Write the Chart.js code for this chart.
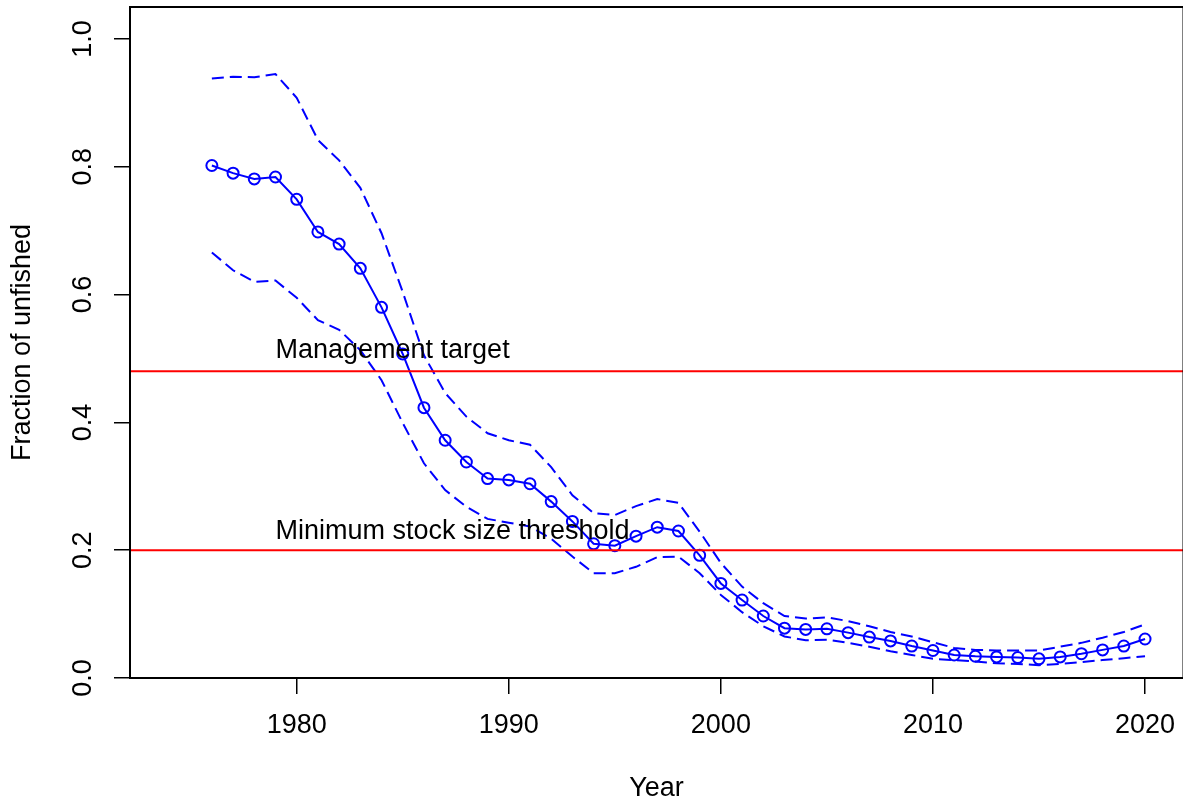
<!DOCTYPE html>
<html>
<head>
<meta charset="utf-8">
<title>Fraction of unfished</title>
<script src="https://cdn.jsdelivr.net/npm/chart.js@4.4.1/dist/chart.umd.min.js"></script>
<style>
  html, body { margin: 0; padding: 0; background: #ffffff; }
  #wrap { width: 1183px; height: 807px; }
</style>
</head>
<body>
<div id="wrap"><canvas id="chart" width="1183" height="807"></canvas></div>
<script>
// Assessment years
const years = [
  1976, 1977, 1978, 1979, 1980, 1981, 1982, 1983, 1984, 1985,
  1986, 1987, 1988, 1989, 1990, 1991, 1992, 1993, 1994, 1995,
  1996, 1997, 1998, 1999, 2000, 2001, 2002, 2003, 2004, 2005,
  2006, 2007, 2008, 2009, 2010, 2011, 2012, 2013, 2014, 2015,
  2016, 2017, 2018, 2019, 2020
];

// Estimated spawning output as a fraction of unfished
const estimate = [
  0.802, 0.790, 0.781, 0.784, 0.749, 0.698, 0.679, 0.641, 0.580, 0.507,
  0.423, 0.372, 0.338, 0.312, 0.310, 0.304, 0.276, 0.245, 0.210, 0.207,
  0.222, 0.236, 0.230, 0.192, 0.148, 0.122, 0.097, 0.078, 0.076, 0.077,
  0.071, 0.064, 0.058, 0.050, 0.043, 0.036, 0.034, 0.033, 0.032, 0.030,
  0.033, 0.038, 0.044, 0.050, 0.061
];

// Upper confidence bound
const upperCI = [
  0.938, 0.941, 0.940, 0.945, 0.908, 0.842, 0.810, 0.767, 0.696, 0.604,
  0.505, 0.446, 0.409, 0.383, 0.372, 0.365, 0.330, 0.286, 0.258, 0.255,
  0.269, 0.280, 0.274, 0.229, 0.180, 0.143, 0.117, 0.097, 0.093, 0.095,
  0.089, 0.081, 0.072, 0.065, 0.056, 0.047, 0.044, 0.043, 0.043, 0.043,
  0.049, 0.055, 0.063, 0.072, 0.084
];

// Lower confidence bound
const lowerCI = [
  0.666, 0.638, 0.620, 0.622, 0.595, 0.560, 0.545, 0.513, 0.466, 0.399,
  0.336, 0.294, 0.268, 0.249, 0.243, 0.237, 0.218, 0.190, 0.164, 0.164,
  0.174, 0.189, 0.190, 0.164, 0.130, 0.103, 0.081, 0.065, 0.059, 0.060,
  0.055, 0.049, 0.042, 0.036, 0.030, 0.028, 0.026, 0.023, 0.022, 0.020,
  0.022, 0.025, 0.028, 0.031, 0.034
];

// Reference points
const refLevels = [0.48, 0.2];
const refLabels = ['Management target', 'Minimum stock size threshold'];
const refLabelYear = 1979;
const refLabelLevels = [0.512, 0.229];

// Axis ticks
const xTicks = [1980, 1990, 2000, 2010, 2020];
const xTickLabels = ['1980', '1990', '2000', '2010', '2020'];
const yTicks = [0, 0.2, 0.4, 0.6, 0.8, 1.0];
const yTickLabels = ['0.0', '0.2', '0.4', '0.6', '0.8', '1.0'];

// Axis ranges
const X_MIN = 1972.14, X_MAX = 2021.79;
const Y_MIN = 0, Y_MAX = 1.05;

const FONT = 'Liberation Sans, Arial, Helvetica, sans-serif';
const BLUE = '#0000ff';
const RED = '#ff0000';

const toXY = vals => vals.map((v, i) => ({ x: years[i], y: v }));

// Frame around the plotting region plus the text beside the reference lines
const framePlugin = {
  id: 'frame',
  afterDatasetsDraw(chart) {
    const { ctx, chartArea: a, scales: { x, y } } = chart;
    ctx.save();
    ctx.font = '27px ' + FONT;
    ctx.fillStyle = '#000';
    ctx.textAlign = 'left';
    ctx.textBaseline = 'middle';
    refLabels.forEach((t, i) => {
      ctx.fillText(t, x.getPixelForValue(refLabelYear), y.getPixelForValue(refLabelLevels[i]));
    });
    ctx.strokeStyle = '#000';
    ctx.lineWidth = 2;
    ctx.strokeRect(a.left, a.top, a.right - a.left + 0.5, a.bottom - a.top);
    ctx.restore();
  }
};

Chart.defaults.font.family = FONT;
Chart.defaults.font.size = 27;
Chart.defaults.color = '#000';

const zeroPad = s => { s.paddingTop = 0; s.paddingBottom = 0; s.paddingLeft = 0; s.paddingRight = 0; };

new Chart(document.getElementById('chart'), {
  type: 'line',
  data: {
    datasets: [
      ...refLevels.map(lv => ({
        data: [{ x: X_MIN, y: lv }, { x: X_MAX, y: lv }],
        borderColor: RED, borderWidth: 2, pointRadius: 0, order: 0
      })),
      {
        data: toXY(estimate),
        borderColor: BLUE, borderWidth: 2,
        pointRadius: 5.5, pointBorderWidth: 2,
        pointBorderColor: BLUE, pointBackgroundColor: 'rgba(0,0,0,0)',
        tension: 0, order: 1
      },
      {
        data: toXY(upperCI),
        borderColor: BLUE, borderWidth: 2, borderDash: [12, 6],
        pointRadius: 0, tension: 0, order: 2
      },
      {
        data: toXY(lowerCI),
        borderColor: BLUE, borderWidth: 2, borderDash: [12, 6],
        pointRadius: 0, tension: 0, order: 2
      }
    ]
  },
  options: {
    responsive: false,
    animation: false,
    events: [],
    layout: { autoPadding: false, padding: { top: 7, right: 0, bottom: 0, left: 0 } },
    plugins: { legend: { display: false }, tooltip: { enabled: false } },
    scales: {
      x: {
        type: 'linear',
        position: 'bottom',
        min: X_MIN, max: X_MAX,
        afterBuildTicks: s => { s.ticks = xTicks.map(v => ({ value: v })); },
        afterFit: s => { s.height = 129; zeroPad(s); },
        ticks: {
          padding: 15,
          callback: (v, i) => xTickLabels[i],
          maxRotation: 0, minRotation: 0,
          font: { size: 27 }
        },
        grid: {
          drawOnChartArea: false, drawTicks: true, tickLength: 16,
          color: '#000', lineWidth: 1.5
        },
        border: { display: false },
        title: {
          display: true, text: 'Year',
          font: { size: 27 },
          padding: { top: 0, bottom: 2 }
        }
      },
      y: {
        type: 'linear',
        position: 'left',
        min: Y_MIN, max: Y_MAX,
        afterBuildTicks: s => { s.ticks = yTicks.map(v => ({ value: v })); },
        afterFit: s => { s.width = 130; zeroPad(s); },
        ticks: {
          padding: 12,
          crossAlign: 'center',
          minRotation: 90, maxRotation: 90,
          callback: (v, i) => yTickLabels[i],
          font: { size: 27 }
        },
        grid: {
          drawOnChartArea: false, drawTicks: true, tickLength: 16,
          color: '#000', lineWidth: 1.5
        },
        border: { display: false },
        title: {
          display: true, text: 'Fraction of unfished',
          font: { size: 27 },
          padding: { top: 6, bottom: 0 }
        }
      }
    }
  },
  plugins: [framePlugin]
});
</script>
</body>
</html>
